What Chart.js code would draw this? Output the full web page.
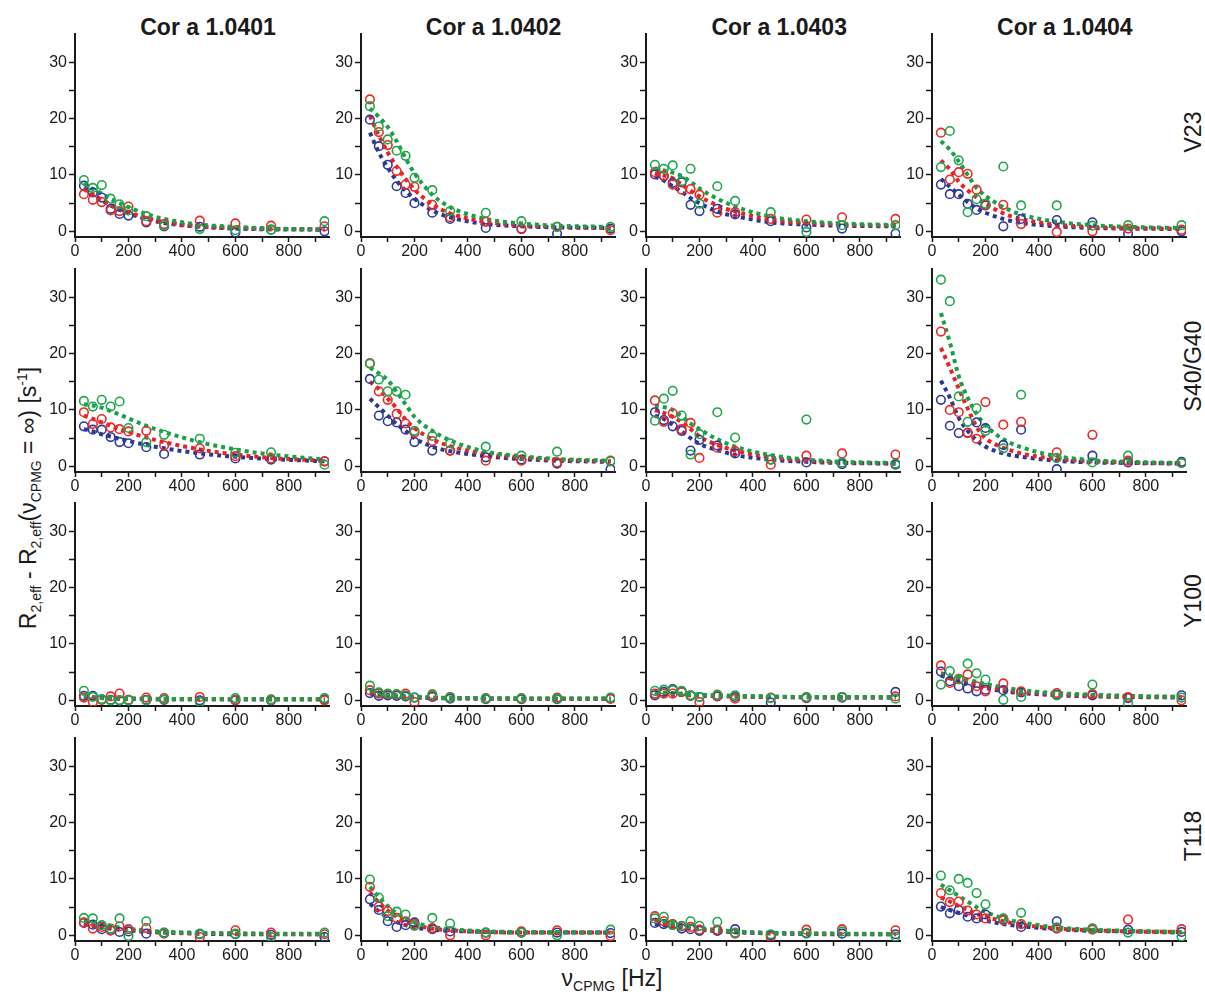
<!DOCTYPE html>
<html>
<head>
<meta charset="utf-8">
<script src="https://cdn.jsdelivr.net/npm/chart.js@4.4.0/dist/chart.umd.min.js"></script>
<style>
  html, body { margin:0; padding:0; background:#ffffff; }
  body { width:1205px; height:996px; position:relative; overflow:hidden; font-family:"Liberation Sans", Arial, sans-serif; color:#1a1a1a; }
  canvas { position:absolute; }
  .title { position:absolute; font-weight:bold; font-size:23px; white-space:nowrap; transform:translate(-50%,-50%); }
  .rowlab { position:absolute; font-size:23px; white-space:nowrap; transform:translate(-50%,-50%) rotate(-90deg); }
  .ylab { position:absolute; font-size:23px; white-space:nowrap; transform:translate(-50%,-50%) rotate(-90deg); }
  .xlab { position:absolute; font-size:23px; white-space:nowrap; transform:translate(-50%,-50%); }
  sub, sup { font-size:14px; line-height:0; }
</style>
</head>
<body>
<script>
// ---------------- DATA ----------------
const samples = ['Cor a 1.0401', 'Cor a 1.0402', 'Cor a 1.0403', 'Cor a 1.0404'];
const residues = ['V23', 'S40/G40', 'Y100', 'T118'];
const nuCPMG = [33.3, 66.7, 100, 133.3, 166.7, 200, 266.7, 333.3, 466.7, 600, 733.3, 933.3];
const xTickValues = [0, 100, 200, 300, 400, 500, 600, 700, 800, 900];
const yTickValues = [0, 5, 10, 15, 20, 25, 30];

// observed R2,eff differences, one row per sample (1.0401..1.0404)
const v23Blue = [
  [8.1, 6.9, 6.0, 4.0, 3.1, 2.8, 1.6, 0.9, 0.8, -0.2, 0.3, 0.0],
  [19.8, 15.1, 11.8, 8.0, 6.8, 5.0, 3.3, 2.2, 0.6, 0.4, -0.4, 0.5],
  [10.1, 9.8, 8.6, 8.7, 4.7, 3.6, 4.0, 3.0, 1.8, 0.7, 0.5, -0.4],
  [8.3, 6.6, 6.6, 4.9, 3.8, 4.6, 0.9, 2.2, 2.0, 1.6, -0.4, 0.0]];
const v23Red = [
  [6.6, 5.6, 5.2, 3.7, 3.6, 4.4, 1.8, 1.3, 1.9, 1.4, 1.0, 0.9],
  [23.4, 17.6, 15.3, 10.7, 8.3, 7.9, 4.7, 2.5, 1.7, 0.5, 0.8, 0.2],
  [10.5, 9.9, 8.3, 7.4, 7.5, 6.5, 3.3, 3.4, 2.2, 2.1, 2.5, 2.2],
  [17.5, 9.2, 10.5, 10.2, 7.4, 4.7, 4.7, 1.3, -0.1, 0.0, 0.5, 0.3]];
const v23Green = [
  [9.1, 7.7, 8.2, 5.8, 4.8, 3.7, 2.7, 1.0, 0.4, 0.2, 0.3, 1.8],
  [22.2, 18.6, 16.3, 14.3, 13.4, 9.5, 7.3, 3.6, 3.3, 1.8, 0.8, 0.8],
  [11.8, 11.1, 11.7, 8.9, 11.1, 4.9, 8.0, 5.4, 3.4, -0.1, 1.1, 1.1],
  [11.4, 17.8, 12.6, 3.4, 5.7, 4.9, 11.5, 4.6, 4.6, 1.0, 1.1, 1.1]];

const s40Blue = [
  [7.1, 6.5, 6.5, 5.2, 4.3, 4.1, 3.4, 2.2, 2.1, 1.4, 1.2, 0.9],
  [15.5, 9.0, 8.0, 7.8, 6.5, 4.3, 2.8, 2.8, 1.6, 1.2, 0.5, -0.5],
  [9.6, 8.2, 7.1, 6.3, 2.8, 4.7, 3.7, 2.3, 1.2, 0.7, 0.4, 0.3],
  [11.8, 7.2, 5.9, 6.0, 7.8, 6.8, 3.8, 6.5, -0.5, 1.9, 0.7, 0.8]];
const s40Red = [
  [9.6, 7.5, 8.4, 6.9, 6.6, 6.2, 6.3, 3.7, 3.2, 1.8, 1.4, 0.9],
  [18.3, 13.3, 11.8, 9.3, 7.6, 6.0, 4.5, 2.8, 1.0, 1.0, 0.7, 1.0],
  [11.7, 7.9, 9.4, 6.6, 7.7, 1.5, 3.3, 2.7, 0.3, 1.9, 2.3, 2.1],
  [23.9, 10.0, 9.6, 5.9, 4.9, 11.4, 7.4, 7.9, 2.5, 5.6, 1.0, 0.6]];
const s40Green = [
  [11.6, 10.6, 11.8, 10.6, 11.5, 6.8, 4.3, 5.6, 4.9, 2.4, 2.5, 0.3],
  [18.2, 15.4, 13.3, 13.3, 12.7, 6.3, 5.4, 4.1, 3.5, 1.9, 2.6, 0.9],
  [8.1, 12.0, 13.4, 9.0, 2.1, 5.7, 9.6, 5.1, 1.2, 8.3, 0.7, 0.5],
  [33.1, 29.3, 12.4, 7.9, 10.3, 6.3, 3.2, 12.7, 1.5, 0.7, 1.9, 0.6]];

const y100Blue = [
  [0.8, 0.8, 0.2, 0.1, 0.0, 0.1, 0.1, 0.1, 0.0, 0.0, 0.0, 0.2],
  [1.3, 0.8, 0.9, 0.8, 0.7, 0.5, 0.6, 0.3, 0.2, 0.2, 0.2, 0.3],
  [0.9, 1.5, 2.0, 1.5, 0.8, 0.6, 0.7, 0.6, -0.4, 0.4, 0.5, 1.5],
  [5.1, 3.4, 2.5, 2.1, 1.6, 1.9, 1.8, 1.4, 1.0, 0.9, 0.4, 0.9]];
const y100Red = [
  [0.5, -0.3, 0.1, 0.7, 1.2, 0.1, 0.5, 0.4, 0.6, 0.1, 0.2, 0.0],
  [1.8, 1.2, 1.1, 1.0, 1.2, -0.3, 0.8, 0.6, 0.4, 0.3, 0.5, 0.3],
  [1.2, 1.2, 1.2, 1.5, 0.9, -0.3, 0.8, 0.3, 0.5, 0.5, 0.6, 0.7],
  [6.2, 3.1, 3.8, 4.6, 2.5, 1.6, 3.0, 1.6, 1.3, 1.1, 0.6, 0.0]];
const y100Green = [
  [1.7, 0.6, 0.2, 0.0, 0.0, 0.0, 0.0, 0.2, -0.3, 0.4, 0.1, 0.4],
  [2.6, 1.4, 1.2, 1.1, 0.9, 0.5, 1.1, 0.5, 0.3, 0.4, 0.3, 0.5],
  [1.7, 1.9, 1.8, 1.7, 0.9, 0.6, 1.0, 0.9, 0.4, 0.6, 0.6, 0.3],
  [2.8, 5.2, 3.7, 6.5, 4.8, 3.7, 0.1, 0.6, 0.9, 2.8, -0.5, 0.5]];

const t118Blue = [
  [2.2, 1.9, 1.1, 0.9, 0.6, 0.7, 0.3, 0.5, 0.2, 0.2, 0.1, -0.3],
  [6.4, 4.5, 2.5, 1.5, 1.8, 2.3, 1.1, 0.7, 0.5, 0.5, 0.5, 0.4],
  [2.2, 2.0, 1.9, 1.2, 1.1, 0.8, 0.8, 1.1, 0.0, 0.4, 0.3, 0.2],
  [5.1, 3.9, 4.5, 3.3, 3.0, 3.7, 2.8, 1.5, 2.5, 1.2, 1.0, 0.6]];
const t118Red = [
  [2.3, 1.2, 1.5, 0.9, 1.6, 1.1, 1.3, 0.3, -0.3, 0.9, 0.5, 0.2],
  [8.6, 5.1, 4.3, 3.1, 2.5, 2.0, 1.3, 0.0, 0.0, 0.7, 0.9, -0.1],
  [3.4, 2.5, 2.0, 1.6, 1.5, 1.0, 1.0, 0.3, -0.3, 1.0, 1.1, 0.9],
  [7.5, 5.9, 6.0, 4.4, 3.7, 3.0, 2.7, 2.0, 1.2, 1.0, 2.8, 1.1]];
const t118Green = [
  [3.1, 3.0, 1.8, 1.2, 3.0, -0.1, 2.5, 0.4, 0.3, 0.3, -0.3, 0.5],
  [9.9, 6.7, 3.4, 4.2, 3.7, 1.7, 3.1, 2.1, 0.5, 0.5, 0.0, 1.0],
  [3.0, 3.3, 1.8, 1.7, 2.5, 1.7, 2.4, 0.5, 0.2, 0.3, 0.7, -0.2],
  [10.6, 8.0, 10.0, 9.3, 7.5, 5.5, 3.0, 4.0, 1.4, 1.2, 0.5, -0.2]];

// fitted curves, read at the same nuCPMG positions
const v23BlueFit = [
  [7.7, 6.5, 5.5, 4.6, 3.8, 3.2, 2.2, 1.5, 0.8, 0.5, 0.35, 0.3],
  [17.5, 14.0, 11.3, 9.0, 7.2, 5.8, 3.7, 2.5, 1.3, 0.9, 0.7, 0.6],
  [9.7, 9.0, 8.0, 7.0, 5.9, 5.0, 3.5, 2.7, 1.6, 1.2, 1.0, 0.9],
  [9.3, 7.9, 6.5, 5.2, 4.1, 3.3, 2.2, 1.5, 0.9, 0.6, 0.5, 0.4]];
const v23RedFit = [
  [7.5, 6.5, 5.6, 4.8, 4.0, 3.4, 2.4, 1.7, 0.9, 0.6, 0.45, 0.35],
  [20.5, 17.0, 14.0, 11.5, 9.3, 7.4, 4.8, 3.2, 1.7, 1.1, 0.8, 0.6],
  [10.3, 9.9, 9.4, 8.3, 7.2, 6.2, 4.6, 3.5, 2.1, 1.5, 1.2, 1.0],
  [12.6, 11.0, 8.8, 7.3, 6.0, 4.9, 3.2, 2.2, 1.2, 0.8, 0.6, 0.5]];
const v23GreenFit = [
  [8.4, 7.5, 6.7, 5.8, 5.0, 4.3, 3.1, 2.2, 1.2, 0.8, 0.5, 0.35],
  [21.8, 20.3, 18.5, 16.0, 13.0, 10.3, 6.5, 4.3, 2.2, 1.4, 1.0, 0.8],
  [11.2, 10.8, 10.4, 9.8, 8.8, 7.6, 5.8, 4.4, 2.6, 1.8, 1.4, 1.1],
  [16.0, 14.5, 12.4, 10.0, 7.7, 6.3, 4.3, 3.0, 1.7, 1.1, 0.8, 0.6]];

const s40BlueFit = [
  [6.6, 6.2, 5.7, 5.3, 4.9, 4.5, 3.8, 3.2, 2.3, 1.7, 1.3, 0.9],
  [12.0, 10.5, 9.0, 7.5, 6.3, 5.0, 3.5, 2.7, 1.8, 1.3, 1.0, 0.8],
  [9.0, 8.4, 7.4, 6.2, 5.0, 4.0, 2.9, 2.0, 1.2, 0.8, 0.6, 0.5],
  [15.2, 12.2, 8.6, 6.3, 4.6, 3.5, 2.3, 1.7, 1.0, 0.7, 0.6, 0.5]];
const s40RedFit = [
  [9.0, 8.4, 7.8, 7.2, 6.6, 6.1, 5.1, 4.3, 3.0, 2.1, 1.5, 1.0],
  [15.0, 13.7, 12.0, 10.3, 8.3, 6.8, 4.8, 3.6, 2.2, 1.6, 1.2, 0.9],
  [10.0, 9.5, 8.8, 7.8, 6.6, 5.3, 3.8, 2.8, 1.6, 1.0, 0.7, 0.5],
  [21.0, 17.5, 13.8, 10.3, 7.0, 5.0, 3.3, 2.3, 1.3, 0.9, 0.7, 0.5]];
const s40GreenFit = [
  [11.0, 10.8, 10.4, 9.8, 9.2, 8.5, 7.2, 6.1, 4.3, 3.0, 2.1, 1.2],
  [17.5, 16.5, 15.3, 13.2, 11.0, 8.8, 6.3, 4.6, 2.6, 1.8, 1.3, 1.0],
  [10.8, 10.5, 10.0, 8.9, 7.6, 6.6, 4.8, 3.5, 2.0, 1.2, 0.8, 0.6],
  [27.2, 22.0, 16.0, 12.2, 9.3, 7.3, 4.8, 3.4, 1.8, 1.1, 0.8, 0.6]];

const y100BlueFit = [
  [0.6, 0.5, 0.4, 0.35, 0.3, 0.3, 0.25, 0.2, 0.2, 0.2, 0.2, 0.2],
  [1.2, 1.0, 0.85, 0.7, 0.6, 0.5, 0.4, 0.35, 0.3, 0.3, 0.3, 0.3],
  [1.2, 1.1, 1.0, 0.95, 0.9, 0.85, 0.75, 0.7, 0.6, 0.55, 0.5, 0.5],
  [4.4, 3.9, 3.4, 2.9, 2.5, 2.2, 1.6, 1.3, 0.9, 0.7, 0.6, 0.5]];
const y100RedFit = [
  [0.6, 0.5, 0.45, 0.4, 0.35, 0.3, 0.25, 0.2, 0.2, 0.2, 0.2, 0.2],
  [1.5, 1.2, 1.0, 0.8, 0.7, 0.6, 0.45, 0.4, 0.35, 0.3, 0.3, 0.3],
  [1.3, 1.2, 1.1, 1.0, 0.95, 0.9, 0.8, 0.7, 0.6, 0.55, 0.5, 0.5],
  [4.8, 4.4, 3.9, 3.4, 2.9, 2.5, 1.9, 1.5, 1.1, 0.8, 0.7, 0.6]];
const y100GreenFit = [
  [0.7, 0.55, 0.45, 0.4, 0.35, 0.3, 0.3, 0.25, 0.25, 0.2, 0.2, 0.2],
  [1.8, 1.4, 1.1, 0.9, 0.75, 0.65, 0.5, 0.45, 0.4, 0.35, 0.35, 0.35],
  [1.5, 1.4, 1.3, 1.2, 1.1, 1.0, 0.9, 0.8, 0.7, 0.6, 0.6, 0.6],
  [4.6, 4.4, 4.1, 3.7, 3.3, 2.9, 2.3, 1.8, 1.3, 1.0, 0.8, 0.6]];

const t118BlueFit = [
  [2.0, 1.7, 1.4, 1.2, 1.0, 0.9, 0.6, 0.5, 0.3, 0.2, 0.2, 0.2],
  [5.6, 4.3, 3.2, 2.4, 1.8, 1.4, 1.0, 0.8, 0.6, 0.5, 0.5, 0.5],
  [2.0, 1.8, 1.6, 1.4, 1.2, 1.0, 0.75, 0.55, 0.35, 0.25, 0.2, 0.2],
  [5.0, 4.5, 4.0, 3.5, 3.0, 2.6, 2.0, 1.6, 1.1, 0.8, 0.7, 0.5]];
const t118RedFit = [
  [2.1, 1.8, 1.6, 1.4, 1.2, 1.0, 0.7, 0.55, 0.35, 0.3, 0.25, 0.2],
  [7.6, 5.8, 4.4, 3.3, 2.5, 1.9, 1.2, 0.9, 0.6, 0.5, 0.5, 0.5],
  [2.4, 2.1, 1.8, 1.5, 1.3, 1.1, 0.8, 0.6, 0.4, 0.3, 0.25, 0.2],
  [6.7, 6.0, 5.2, 4.5, 3.8, 3.3, 2.5, 1.9, 1.2, 0.9, 0.7, 0.6]];
const t118GreenFit = [
  [2.6, 2.3, 2.0, 1.7, 1.4, 1.2, 0.85, 0.65, 0.45, 0.35, 0.3, 0.3],
  [8.6, 6.8, 5.2, 3.9, 3.0, 2.3, 1.5, 1.1, 0.7, 0.6, 0.55, 0.5],
  [2.8, 2.5, 2.1, 1.8, 1.5, 1.3, 0.95, 0.7, 0.45, 0.35, 0.3, 0.25],
  [9.0, 8.0, 7.0, 6.0, 5.0, 4.2, 3.0, 2.3, 1.4, 1.0, 0.8, 0.6]];

const obsByRow = [
  [v23Blue, v23Red, v23Green],
  [s40Blue, s40Red, s40Green],
  [y100Blue, y100Red, y100Green],
  [t118Blue, t118Red, t118Green]];
const fitByRow = [
  [v23BlueFit, v23RedFit, v23GreenFit],
  [s40BlueFit, s40RedFit, s40GreenFit],
  [y100BlueFit, y100RedFit, y100GreenFit],
  [t118BlueFit, t118RedFit, t118GreenFit]];

// ---------------- STYLE / LAYOUT ----------------
const pointColors = ['#2f3a9a', '#ec2a26', '#1fa74c'];
const lineColors = ['#2b3792', '#ea2026', '#1a9f48'];
const FONT = '"Liberation Sans", Arial, sans-serif';
const AXIS = '#1a1a1a';
const AREA_LEFT0 = 75, AREA_DX = 285.6;
const AREA_TOP0 = 34, AREA_DY = 234.7;
const AREA_W = 254, AREA_H = 203;
const YW = 55, XH = 34, PT = 12, PR = 12;

function el(cls, html, x, y) {
  const d = document.createElement('div');
  d.className = cls; d.innerHTML = html;
  d.style.left = x + 'px'; d.style.top = y + 'px';
  document.body.appendChild(d);
}

for (let c = 0; c < 4; c++) {
  el('title', samples[c], AREA_LEFT0 + c * AREA_DX + AREA_W / 2 + 6, 27);
}
for (let r = 0; r < 4; r++) {
  el('rowlab', residues[r], 1193, AREA_TOP0 + r * AREA_DY + AREA_H / 2 - 4);
}
el('ylab', 'R<sub>2,eff</sub> - R<sub>2,eff</sub>(ν<sub>CPMG</sub> = ∞) [s<sup>-1</sup>]', 28, 498);
el('xlab', 'ν<sub>CPMG</sub> [Hz]', 612, 978);

function pts(ys) { return nuCPMG.map((x, i) => ({ x: x, y: ys[i] })); }

for (let r = 0; r < 4; r++) {
  for (let c = 0; c < 4; c++) {
    const cv = document.createElement('canvas');
    const w = YW + AREA_W + PR, h = PT + AREA_H + XH;
    cv.width = w; cv.height = h;
    cv.style.width = w + 'px'; cv.style.height = h + 'px';
    cv.style.left = (AREA_LEFT0 + c * AREA_DX - YW) + 'px';
    cv.style.top = (AREA_TOP0 + r * AREA_DY - PT) + 'px';
    document.body.appendChild(cv);

    const datasets = [];
    // scatter (drawn on top: lowest index drawn last)
    for (const k of [2, 1, 0]) {
      datasets.push({
        data: pts(obsByRow[r][k][c]),
        showLine: false,
        pointRadius: 4.3,
        pointBorderWidth: 1.6,
        pointBorderColor: pointColors[k],
        pointBackgroundColor: 'rgba(255,255,255,0)',
        pointStyle: 'circle'
      });
    }
    for (const k of [2, 1, 0]) {
      datasets.push({
        data: pts(fitByRow[r][k][c]),
        showLine: true,
        pointRadius: 0,
        borderColor: lineColors[k],
        borderWidth: 4,
        borderDash: [4, 4],
        borderCapStyle: 'butt',
        cubicInterpolationMode: 'monotone',
        fill: false
      });
    }

    new Chart(cv, {
      type: 'scatter',
      data: { datasets },
      options: {
        responsive: false, animation: false, devicePixelRatio: 1,
        events: [],
        plugins: { legend: { display: false }, tooltip: { enabled: false }, title: { display: false } },
        layout: { padding: { top: PT, right: PR, left: 0, bottom: 0 } },
        scales: {
          x: {
            type: 'linear', min: 0, max: 950,
            afterBuildTicks: s => { s.ticks = xTickValues.map(v => ({ value: v })); },
            afterFit: s => { s.height = XH; },
            ticks: { autoSkip: false, maxRotation: 0, minRotation: 0, padding: 0, color: AXIS,
                     font: { family: FONT, size: 16 },
                     callback: v => (v % 200 === 0 ? String(v) : '') },
            grid: { display: true, drawOnChartArea: false, drawTicks: true, tickLength: 5,
                    tickColor: AXIS, tickWidth: 1.5 },
            border: { display: true, color: AXIS, width: 2 }
          },
          y: {
            type: 'linear', min: -1, max: 35,
            afterBuildTicks: s => { s.ticks = yTickValues.map(v => ({ value: v })); },
            afterFit: s => { s.width = YW; },
            ticks: { autoSkip: false, padding: 2, color: AXIS,
                     font: { family: FONT, size: 16 },
                     callback: v => (v % 10 === 0 ? String(v) : '') },
            grid: { display: true, drawOnChartArea: false, drawTicks: true, tickLength: 6,
                    tickColor: AXIS, tickWidth: 1.5 },
            border: { display: true, color: AXIS, width: 2 }
          }
        }
      }
    });
  }
}
</script>
</body>
</html>
